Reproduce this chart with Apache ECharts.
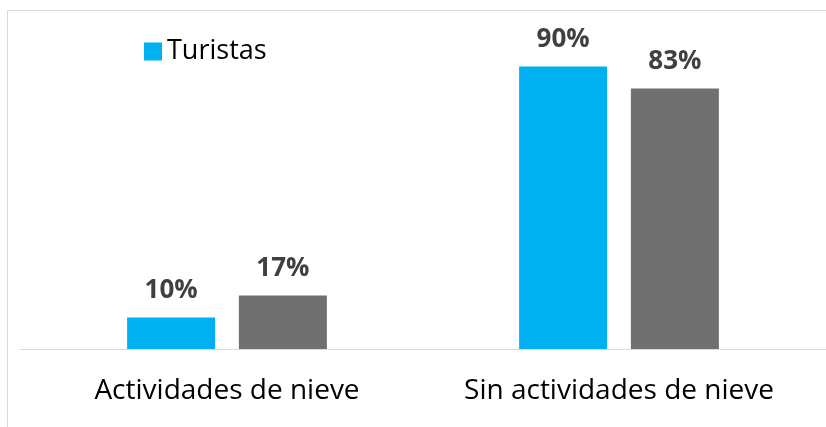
<!DOCTYPE html>
<html>
<head>
<meta charset="utf-8">
<script src="https://cdn.jsdelivr.net/npm/echarts@6/dist/echarts.min.js"></script>
<style>
  html, body { margin: 0; padding: 0; background: #fff; }
  #chart { width: 826px; height: 427px; }
</style>
</head>
<body>
<div id="chart"></div>
<script>
// 数据
var categories = ['Actividades de nieve', 'Sin actividades de nieve'];
var turistas = [10, 90];
var otros = [17, 83];

var chart = echarts.init(document.getElementById('chart'));

var labelStyle = {
    show: true,
    position: 'top',
    distance: 14,
    formatter: '{c}%',
    fontFamily: 'Open Sans',
    fontWeight: 'bold',
    fontSize: 26,
    color: '#404040'
};

var option = {
    animation: false,
    // 外框和底线
    graphic: [
        {
            type: 'rect',
            shape: { x: 7.5, y: 10.5, width: 830, height: 430 },
            style: { fill: 'none', stroke: '#d9d9d9', lineWidth: 1 }
        },
        {
            type: 'line',
            shape: { x1: 20, y1: 349.5, x2: 826, y2: 349.5 },
            style: { stroke: '#d9d9d9', lineWidth: 1 }
        }
    ],
    legend: {
        data: ['Turistas'],
        left: 139,
        top: 33,
        icon: 'rect',
        itemWidth: 18,
        itemHeight: 18,
        itemGap: 8,
        textStyle: {
            fontFamily: 'Open Sans',
            fontSize: 27,
            color: '#000'
        }
    },
    grid: {
        left: 31,
        width: 784,
        top: 35,
        bottom: 78,
        containLabel: false
    },
    xAxis: {
        type: 'category',
        data: categories,
        axisLine: { show: false },
        axisTick: { show: false },
        axisLabel: {
            interval: 0,
            hideOverlap: false,
            margin: 28,
            fontFamily: 'Open Sans',
            fontSize: 28,
            color: '#000'
        }
    },
    yAxis: {
        type: 'value',
        min: 0,
        max: 100,
        show: false,
        splitLine: { show: false }
    },
    series: [
        {
            name: 'Turistas',
            type: 'bar',
            data: turistas,
            barWidth: 88,
            barGap: '27%',
            itemStyle: { color: '#00b0f0' },
            label: labelStyle
        },
        {
            name: 'Otros',
            type: 'bar',
            data: otros,
            barWidth: 88,
            itemStyle: { color: '#707070' },
            label: labelStyle
        }
    ]
};

chart.setOption(option);
</script>
</body>
</html>
